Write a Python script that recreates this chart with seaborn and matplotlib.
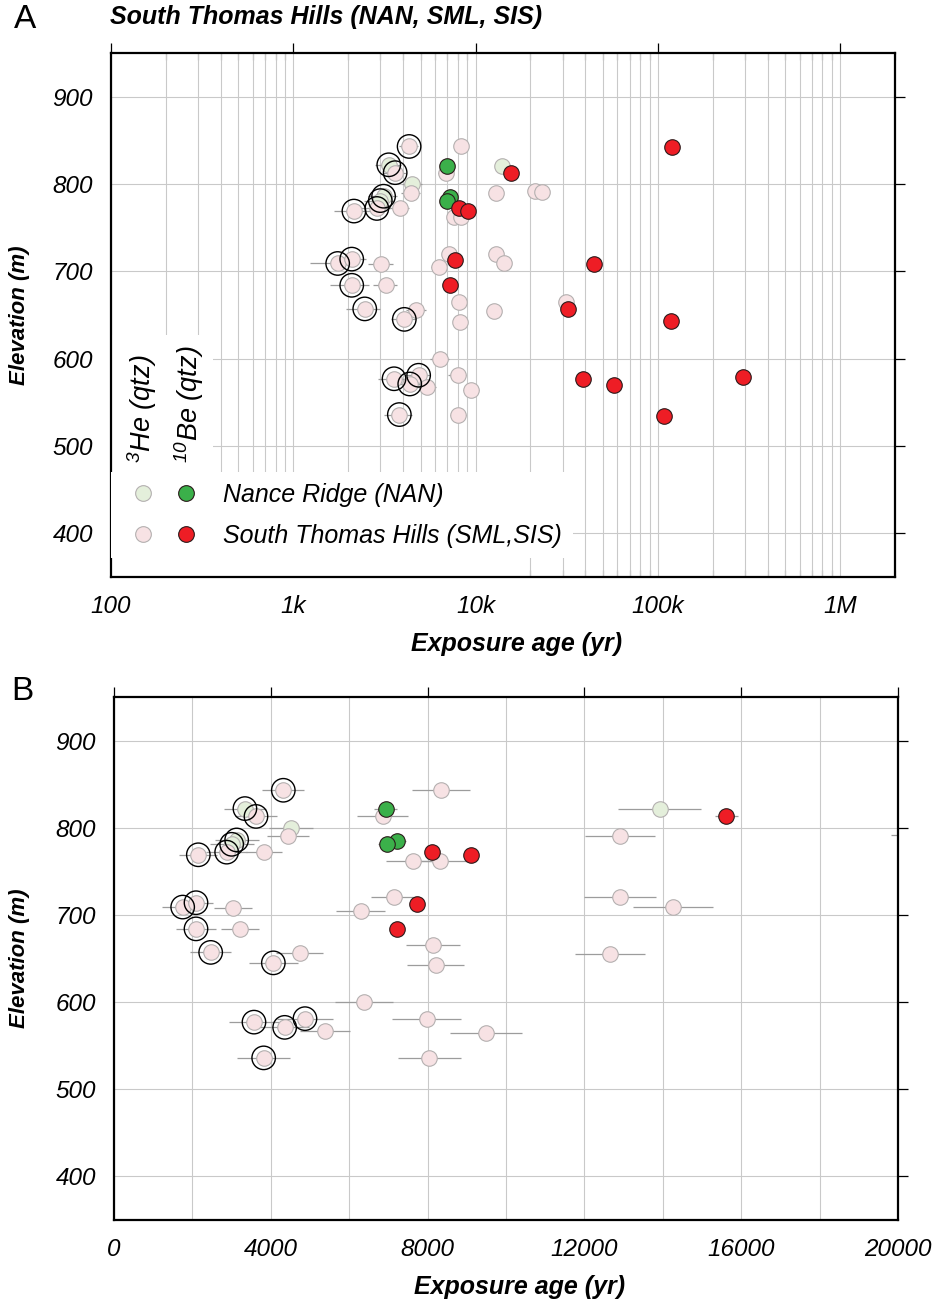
import numpy as np
import pandas as pd
import matplotlib
matplotlib.use("Agg")
import matplotlib.pyplot as plt
import seaborn as sns
from matplotlib.ticker import FixedLocator, FixedFormatter, LogLocator, NullFormatter, MultipleLocator
from matplotlib.lines import Line2D
from matplotlib.legend_handler import HandlerTuple
from matplotlib.patches import Rectangle

# ---------------- data ----------------
# 3He (qtz), Nance Ridge (NAN)
he_nan_age = [3340, 3129, 3002, 4508, 13920]
he_nan_err = [540, 560, 560, 565, 1060]
he_nan_elev = [822, 786, 781, 800, 821]
he_nan_circled = [True, True, True, False, False]

# 3He (qtz), South Thomas Hills (SML, SIS)
he_sth_age = [4319, 3622, 4439, 2874, 3827, 2151, 8342, 6853, 7636, 8316,
              7134, 6293, 1752, 2092, 3036, 2092, 3214, 2466, 4737, 4065,
              8146, 8206, 6378, 3571, 4872, 4354, 5391, 7976, 9481, 3818,
              8044, 12900, 12900, 14250, 12650, 21210, 23260, 31380]
he_sth_err = [535, 530, 545, 520, 460, 485, 740, 650, 700, 700,
              570, 625, 520, 425, 480, 510, 485, 530, 600, 630,
              690, 730, 750, 640, 720, 630, 640, 875, 920, 670,
              800, 890, 920, 1020, 890, 1400, 1500, 2000]
he_sth_elev = [843, 813, 790, 772, 772, 769, 843, 813, 762, 762,
               720, 705, 709, 714, 708, 684, 684, 657, 656, 645,
               665, 642, 600, 577, 581, 571, 567, 581, 564, 536,
               536, 790, 720, 709, 655, 792, 791, 665]
he_sth_circled = [True, True, False, True, False, True, False, False, False, False,
                  False, False, True, True, False, True, False, True, False, True,
                  False, False, False, True, True, True, False, False, False, True,
                  False, False, False, False, False, False, False, False]

# 10Be (qtz), Nance Ridge (NAN)
be_nan_age = [6930, 7211, 6973]
be_nan_err = [300, 240, 240]
be_nan_elev = [821, 785, 781]

# 10Be (qtz), South Thomas Hills (SML, SIS)
be_sth_age = [8104, 9099, 7722, 7211, 15620, 119000, 44700, 32290, 118700,
              38880, 57760, 294400, 107800]
be_sth_err = [150, 170, 150, 140, 300, 2500, 900, 650, 2500,
              800, 1100, 6000, 2200]
be_sth_elev = [772, 769, 713, 684, 813, 842, 708, 656.5, 643.5,
               576.6, 569.4, 579, 534.5]

log_ticks = [100, 1000, 10000, 100000, 1000000]
log_tick_labels = ["100", "1k", "10k", "100k", "1M"]
lin_ticks = [0, 4000, 8000, 12000, 16000, 20000]
elev_ticks = [400, 500, 600, 700, 800, 900]

title = "South Thomas Hills (NAN, SML, SIS)"
legend_labels = ["Nance Ridge (NAN)", "South Thomas Hills (SML,SIS)"]

# ---------------- tables ----------------
def make(age, err, elev, nuc, site, circ=None):
    n = len(age)
    return pd.DataFrame({"age": age, "err": err, "elev": elev,
                         "nuclide": [nuc] * n, "site": [site] * n,
                         "circled": circ if circ is not None else [False] * n})

df = pd.concat([make(he_nan_age, he_nan_err, he_nan_elev, "3He", "NAN", he_nan_circled),
                make(he_sth_age, he_sth_err, he_sth_elev, "3He", "STH", he_sth_circled),
                make(be_nan_age, be_nan_err, be_nan_elev, "10Be", "NAN"),
                make(be_sth_age, be_sth_err, be_sth_elev, "10Be", "STH")],
               ignore_index=True)

# ---------------- style ----------------
sns.set_theme(style="white")
plt.rcParams["font.family"] = ["Liberation Sans", "DejaVu Sans"]
plt.rcParams["text.color"] = "black"
plt.rcParams["axes.labelcolor"] = "black"
plt.rcParams["xtick.color"] = "black"
plt.rcParams["ytick.color"] = "black"
plt.rcParams["mathtext.fontset"] = "custom"
plt.rcParams["mathtext.rm"] = "Liberation Sans:italic"
plt.rcParams["mathtext.it"] = "Liberation Sans:italic"
plt.rcParams["mathtext.default"] = "it"

C_LGREEN = "#e4efdb"
C_PINK = "#f7e2e4"
C_GREEN = "#3bb04a"
C_RED = "#ee1d25"
C_GREYEDGE = "#b4b0b0"
C_DARKEDGE = "#2a1a1a"
GRID = "#c9c9c9"
MS = 125
RING = 285

fig = plt.figure(figsize=(9.41, 13.05), dpi=100)
axA = fig.add_axes([111 / 941, (1305 - 577) / 1305, 784 / 941, 524 / 1305])
axB = fig.add_axes([114 / 941, (1305 - 1220) / 1305, 784 / 941, 523 / 1305])


def draw(ax):
    ax.set_axisbelow(True)
    ax.errorbar(df["age"], df["elev"], xerr=df["err"], fmt="none",
                ecolor="#9c9c9c", elinewidth=0.9, capsize=0, zorder=1.5)
    he = df[df.nuclide == "3He"]
    sns.scatterplot(data=he[he.site == "NAN"], x="age", y="elev", ax=ax,
                    color=C_LGREEN, edgecolor=C_GREYEDGE, linewidth=0.8,
                    s=MS, legend=False, zorder=2)
    sns.scatterplot(data=he[he.site == "STH"], x="age", y="elev", ax=ax,
                    color=C_PINK, edgecolor=C_GREYEDGE, linewidth=0.8,
                    s=MS, legend=False, zorder=2.1)
    circ = df[df.circled]
    sns.scatterplot(data=circ, x="age", y="elev", ax=ax, marker="o",
                    facecolor="none", edgecolor="black", linewidth=1.0,
                    s=RING, legend=False, zorder=2.5)
    be = df[df.nuclide == "10Be"]
    sns.scatterplot(data=be[be.site == "NAN"], x="age", y="elev", ax=ax,
                    color=C_GREEN, edgecolor=C_DARKEDGE, linewidth=0.8,
                    s=MS, legend=False, zorder=3)
    sns.scatterplot(data=be[be.site == "STH"], x="age", y="elev", ax=ax,
                    color=C_RED, edgecolor=C_DARKEDGE, linewidth=0.8,
                    s=MS, legend=False, zorder=3.1)

    ax.set_ylim(350, 950)
    ax.yaxis.set_major_locator(FixedLocator(elev_ticks))
    for sp in ax.spines.values():
        sp.set_linewidth(1.6)
        sp.set_color("black")
    ax.tick_params(which="major", direction="out", length=7, width=0.9,
                   color="black", top=True, right=True, labelsize=17.5, pad=6)
    ax.set_xlabel("Exposure age (yr)", fontsize=18, fontweight="bold", style="italic")
    ax.set_ylabel("Elevation (m)", fontsize=16, fontweight="bold", style="italic")


# ---------------- panel A (log) ----------------
draw(axA)
axA.set_xscale("log")
axA.set_xlim(100, 2e6)
axA.xaxis.set_major_locator(FixedLocator(log_ticks))
axA.xaxis.set_major_formatter(FixedFormatter(log_tick_labels))
axA.xaxis.set_minor_locator(LogLocator(base=10, subs=np.arange(2, 10)))
axA.xaxis.set_minor_formatter(NullFormatter())
axA.tick_params(axis="x", which="minor", direction="in", length=5, color=GRID,
                top=True, bottom=True)
axA.grid(True, axis="x", which="both", color=GRID, linewidth=0.8)
axA.grid(True, axis="y", which="major", color=GRID, linewidth=0.8)
for lab in axA.get_xticklabels() + axA.get_yticklabels():
    lab.set_style("italic")

# white boxes behind the legend block
axA.add_patch(Rectangle((0, 0), 0.13, 0.462, transform=axA.transAxes,
                        facecolor="white", edgecolor="none", zorder=1))
axA.add_patch(Rectangle((0, 0), 0.50, 0.06, transform=axA.transAxes,
                        facecolor="white", edgecolor="none", zorder=1))
axA.text(0.0395, 0.2176, r"$^{3}$He (qtz)", rotation=90, ha="center", va="bottom",
         transform=axA.transAxes, fontsize=19.5, style="italic", zorder=6)
axA.text(0.0995, 0.2176, r"$^{10}$Be (qtz)", rotation=90, ha="center", va="bottom",
         transform=axA.transAxes, fontsize=19.5, style="italic", zorder=6)

h_nan = (Line2D([], [], ls="none", marker="o", ms=11.3, mfc=C_LGREEN, mec=C_GREYEDGE, mew=0.8),
         Line2D([], [], ls="none", marker="o", ms=11.3, mfc=C_GREEN, mec=C_DARKEDGE, mew=0.8))
h_sth = (Line2D([], [], ls="none", marker="o", ms=11.3, mfc=C_PINK, mec=C_GREYEDGE, mew=0.8),
         Line2D([], [], ls="none", marker="o", ms=11.3, mfc=C_RED, mec=C_DARKEDGE, mew=0.8))
leg = axA.legend([h_nan, h_sth], legend_labels,
                 handler_map={tuple: HandlerTuple(ndivide=None, pad=0)},
                 loc="lower left", bbox_to_anchor=(0, 19 / 524), bbox_transform=axA.transAxes,
                 frameon=True, fancybox=False, framealpha=1, facecolor="white",
                 edgecolor="none", handlelength=3.45, handletextpad=0.62,
                 borderpad=0.42, borderaxespad=0, labelspacing=0.68,
                 prop=dict(style="italic", size=18))
leg.set_zorder(5)

axA.xaxis.set_label_coords(0.517, (577 - 632) / 524)
axA.yaxis.set_label_coords((30 - 111) / 784, 0.5)

# ---------------- panel B (linear) ----------------
draw(axB)
axB.set_xlim(0, 20000)
axB.xaxis.set_major_locator(FixedLocator(lin_ticks))
axB.xaxis.set_minor_locator(MultipleLocator(2000))
axB.tick_params(axis="x", which="minor", length=0)
axB.grid(True, axis="x", which="both", color=GRID, linewidth=0.8)
axB.grid(True, axis="y", which="major", color=GRID, linewidth=0.8)
for lab in axB.get_xticklabels() + axB.get_yticklabels():
    lab.set_style("italic")
axB.xaxis.set_label_coords(0.517, (1220 - 1275) / 523)
axB.yaxis.set_label_coords((30 - 114) / 784, 0.5)

# ---------------- titles / panel letters ----------------
fig.text(110 / 941, 1 - 17 / 1305, title, fontsize=18, fontweight="bold",
         style="italic", ha="left", va="center")
fig.text(25 / 941, 1 - 20 / 1305, "A", fontsize=24, ha="center", va="center")
fig.text(22 / 941, 1 - 691 / 1305, "B", fontsize=24, ha="center", va="center")

fig.savefig("out.png", dpi=100)
